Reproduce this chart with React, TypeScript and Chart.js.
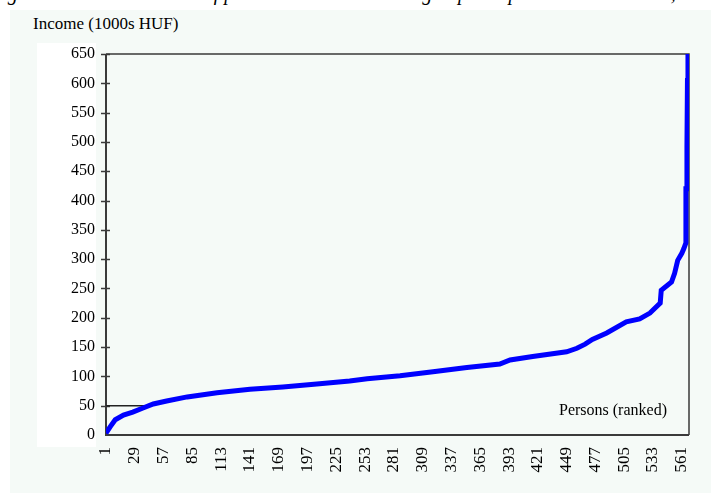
import React, { useEffect, useRef } from "react";
import { Chart, registerables } from "chart.js";

Chart.register(...registerables);

// Persons ranked (x) and per-capita annual income in 1000s HUF (y)
const ranks = [
  1, 5, 10, 18, 27, 37, 47, 60, 80, 109, 141, 173, 206, 238, 255, 287, 319, 352, 384, 394,
  416, 449, 459, 467, 474, 488, 507, 520, 530, 540, 541, 551, 554, 557, 561, 563, 565, 565,
  566, 566, 566.5, 567, 567,
];
const incomes = [
  3, 14, 26, 34, 39, 46, 53, 58, 65, 72, 78, 82, 87, 92, 96, 101, 108, 115, 121, 128,
  134, 142, 148, 155, 163, 174, 193, 198, 208, 225, 247, 261, 276, 298, 310, 318, 328, 420,
  420, 490, 605, 605, 650,
];
// Reference line at 50 thousand HUF
const refRanks = [1, 40];
const refIncomes = [50, 50];

const xTickLabels = [1, 29, 57, 85, 113, 141, 169, 197, 225, 253, 281, 309, 337, 365, 393, 421, 449, 477, 505, 533, 561];
const yTickValues = [0, 50, 100, 150, 200, 250, 300, 350, 400, 450, 500, 550, 600, 650];

const SERIF = '"Liberation Serif", "Times New Roman", serif';

const framePlugin = {
  id: "frame",
  beforeDatasetsDraw(chart: any) {
    const { ctx, chartArea } = chart;
    const y = chart.scales.y;
    ctx.save();
    ctx.strokeStyle = "#3a3a3a";
    ctx.lineWidth = 1.5;
    ctx.beginPath();
    ctx.moveTo(chartArea.left, chartArea.top);
    ctx.lineTo(chartArea.right, chartArea.top);
    ctx.lineTo(chartArea.right, chartArea.bottom);
    ctx.stroke();
    ctx.lineWidth = 2;
    ctx.beginPath();
    ctx.moveTo(chartArea.left, chartArea.top);
    ctx.lineTo(chartArea.left, chartArea.bottom);
    ctx.lineTo(chartArea.right, chartArea.bottom);
    ctx.stroke();
    ctx.lineWidth = 1.5;
    yTickValues.forEach((v) => {
      if (v === 0) return;
      const py = Math.round(y.getPixelForValue(v)) + 0.5;
      ctx.beginPath();
      ctx.moveTo(chartArea.left - 5, py);
      ctx.lineTo(chartArea.left + 4, py);
      ctx.stroke();
    });
    ctx.restore();
  },
};

export default function App() {
  const ref = useRef<HTMLCanvasElement | null>(null);

  useEffect(() => {
    if (!ref.current) return;
    const curve = ranks.map((r, i) => ({ x: r, y: incomes[i] }));
    const refLine = refRanks.map((r, i) => ({ x: r, y: refIncomes[i] }));
    const chart = new Chart(ref.current, {
      type: "line",
      data: {
        datasets: [
          {
            data: curve,
            borderColor: "#0000ff",
            borderWidth: 5,
            pointRadius: 0,
            tension: 0,
            order: 0,
            borderJoinStyle: "miter",
          },
          {
            data: refLine,
            borderColor: "#222222",
            borderWidth: 1.5,
            pointRadius: 0,
            order: 1,
          },
        ],
      },
      options: {
        responsive: false,
        animation: false,
        events: [],
        layout: { padding: { top: 54, right: 22, left: 0, bottom: 0 } },
        plugins: { legend: { display: false }, tooltip: { enabled: false } },
        scales: {
          x: {
            type: "linear",
            min: 1,
            max: 568,
            afterBuildTicks: (s: any) => {
              s.ticks = xTickLabels.map((v) => ({ value: v }));
            },
            afterFit: (s: any) => {
              s.height = 58;
              s.paddingLeft = 0;
              s.paddingRight = 0;
            },
            grid: { display: false, drawTicks: false },
            border: { display: false },
            ticks: {
              autoSkip: false,
              minRotation: 90,
              maxRotation: 90,
              padding: 12,
              color: "#000",
              font: { family: SERIF, size: 17 },
              callback: (v: any) => String(v),
            },
          },
          y: {
            min: 0,
            max: 650,
            afterFit: (s: any) => {
              s.width = 106;
            },
            grid: { display: false, drawTicks: false },
            border: { display: false },
            ticks: {
              stepSize: 50,
              padding: 11,
              color: "#000",
              font: { family: SERIF, size: 16 },
            },
          },
        },
      },
      plugins: [framePlugin],
    });
    return () => chart.destroy();
  }, []);

  return (
    <div
      style={{
        position: "fixed",
        left: 0,
        top: 0,
        width: 711,
        height: 493,
        overflow: "hidden",
        background: "#ffffff",
        fontFamily: SERIF,
      }}
    >
      <div
        style={{
          position: "absolute",
          left: -10,
          top: -18,
          whiteSpace: "nowrap",
          fontStyle: "italic",
          fontSize: 20,
          color: "#000",
        }}
      >
        Figure 1: The distribution of persons ranked according to per capita annual incomes, 1996
      </div>
      <div style={{ position: "absolute", left: 10, top: 10, right: 0, bottom: 0, background: "#f5faf7" }} />
      <div style={{ position: "absolute", left: 37, top: 43, width: 59, height: 404, background: "#ffffff" }} />
      <div
        style={{
          position: "absolute",
          left: 33,
          top: 14,
          fontSize: 17,
          lineHeight: "20px",
          color: "#000",
          whiteSpace: "nowrap",
        }}
      >
        Income (1000s HUF)
      </div>
      <canvas
        ref={ref}
        width={711}
        height={493}
        style={{ position: "absolute", left: 0, top: 0, width: 711, height: 493 }}
      />
      <div
        style={{
          position: "absolute",
          left: 559,
          top: 400,
          fontSize: 16,
          lineHeight: "20px",
          color: "#000",
          whiteSpace: "nowrap",
        }}
      >
        Persons (ranked)
      </div>
    </div>
  );
}
